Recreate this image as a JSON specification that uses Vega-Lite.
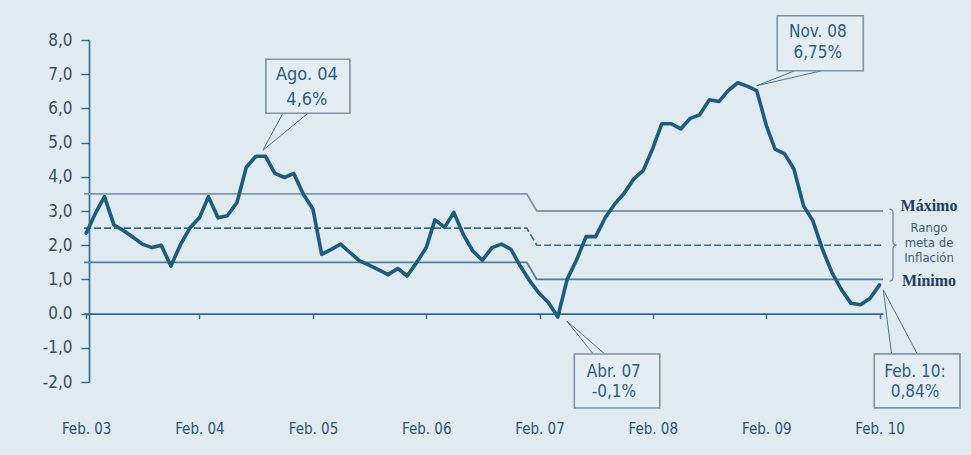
{
  "$schema": "https://vega.github.io/schema/vega-lite/v6.json",
  "width": 799,
  "height": 342,
  "autosize": {"type": "none"},
  "padding": {"left": 84, "top": 40, "right": 88, "bottom": 73},
  "background": "#dfeaf1",
  "config": {"view": {"stroke": null}, "font": "Liberation Sans Narrow, DejaVu Sans Condensed, Roboto Condensed, Roboto, sans-serif"},
  "title": {
    "text": "(Variación porcentual últimos 12 meses)",
    "font": "Liberation Sans",
    "fontSize": 16,
    "fontWeight": "normal",
    "color": "#1a1a1a",
    "anchor": "middle",
    "frame": "group",
    "dx": 36,
    "offset": 33,
    "baseline": "alphabetic"
  },
  "datasets": {
    "infl": [
      {"date": "2003/02/01", "value": 2.35},
      {"date": "2003/03/01", "value": 2.9},
      {"date": "2003/04/01", "value": 3.42},
      {"date": "2003/05/01", "value": 2.6},
      {"date": "2003/06/01", "value": 2.43},
      {"date": "2003/07/01", "value": 2.24},
      {"date": "2003/08/01", "value": 2.03},
      {"date": "2003/09/01", "value": 1.93},
      {"date": "2003/10/01", "value": 2.0},
      {"date": "2003/11/01", "value": 1.39},
      {"date": "2003/12/01", "value": 2.0},
      {"date": "2004/01/01", "value": 2.5},
      {"date": "2004/02/01", "value": 2.8},
      {"date": "2004/03/01", "value": 3.42},
      {"date": "2004/04/01", "value": 2.8},
      {"date": "2004/05/01", "value": 2.86},
      {"date": "2004/06/01", "value": 3.25},
      {"date": "2004/07/01", "value": 4.28},
      {"date": "2004/08/01", "value": 4.6},
      {"date": "2004/09/01", "value": 4.6},
      {"date": "2004/10/01", "value": 4.1},
      {"date": "2004/11/01", "value": 3.98},
      {"date": "2004/12/01", "value": 4.1},
      {"date": "2005/01/01", "value": 3.49},
      {"date": "2005/02/01", "value": 3.05},
      {"date": "2005/03/01", "value": 1.73},
      {"date": "2005/04/01", "value": 1.88},
      {"date": "2005/05/01", "value": 2.03},
      {"date": "2005/06/01", "value": 1.78},
      {"date": "2005/07/01", "value": 1.54},
      {"date": "2005/08/01", "value": 1.42},
      {"date": "2005/09/01", "value": 1.28},
      {"date": "2005/10/01", "value": 1.14},
      {"date": "2005/11/01", "value": 1.32},
      {"date": "2005/12/01", "value": 1.1},
      {"date": "2006/01/01", "value": 1.49},
      {"date": "2006/02/01", "value": 1.93},
      {"date": "2006/03/01", "value": 2.74},
      {"date": "2006/04/01", "value": 2.52},
      {"date": "2006/05/01", "value": 2.96},
      {"date": "2006/06/01", "value": 2.3},
      {"date": "2006/07/01", "value": 1.83},
      {"date": "2006/08/01", "value": 1.56},
      {"date": "2006/09/01", "value": 1.93},
      {"date": "2006/10/01", "value": 2.03},
      {"date": "2006/11/01", "value": 1.88},
      {"date": "2006/12/01", "value": 1.39},
      {"date": "2007/01/01", "value": 0.95},
      {"date": "2007/02/01", "value": 0.58},
      {"date": "2007/03/01", "value": 0.33},
      {"date": "2007/04/01", "value": -0.1},
      {"date": "2007/05/01", "value": 1.0},
      {"date": "2007/06/01", "value": 1.58},
      {"date": "2007/07/01", "value": 2.25},
      {"date": "2007/08/01", "value": 2.25},
      {"date": "2007/09/01", "value": 2.81},
      {"date": "2007/10/01", "value": 3.2},
      {"date": "2007/11/01", "value": 3.52},
      {"date": "2007/12/01", "value": 3.93},
      {"date": "2008/01/01", "value": 4.18},
      {"date": "2008/02/01", "value": 4.83},
      {"date": "2008/03/01", "value": 5.55},
      {"date": "2008/04/01", "value": 5.55},
      {"date": "2008/05/01", "value": 5.4},
      {"date": "2008/06/01", "value": 5.71},
      {"date": "2008/07/01", "value": 5.81},
      {"date": "2008/08/01", "value": 6.25},
      {"date": "2008/09/01", "value": 6.2},
      {"date": "2008/10/01", "value": 6.52},
      {"date": "2008/11/01", "value": 6.75},
      {"date": "2008/12/01", "value": 6.65},
      {"date": "2009/01/01", "value": 6.52},
      {"date": "2009/02/01", "value": 5.5},
      {"date": "2009/03/01", "value": 4.81},
      {"date": "2009/04/01", "value": 4.67},
      {"date": "2009/05/01", "value": 4.23},
      {"date": "2009/06/01", "value": 3.15},
      {"date": "2009/07/01", "value": 2.71},
      {"date": "2009/08/01", "value": 1.88},
      {"date": "2009/09/01", "value": 1.19},
      {"date": "2009/10/01", "value": 0.7},
      {"date": "2009/11/01", "value": 0.3},
      {"date": "2009/12/01", "value": 0.26},
      {"date": "2010/01/01", "value": 0.44},
      {"date": "2010/02/01", "value": 0.84}
    ],
    "refs": [
      {"date": "2003/01/25", "value": 3.5, "band": "max"},
      {"date": "2006/12/22", "value": 3.5, "band": "max"},
      {"date": "2007/01/23", "value": 3.0, "band": "max"},
      {"date": "2010/02/12", "value": 3.0, "band": "max"},
      {"date": "2003/01/25", "value": 2.5, "band": "mid"},
      {"date": "2006/12/22", "value": 2.5, "band": "mid"},
      {"date": "2007/01/23", "value": 2.0, "band": "mid"},
      {"date": "2010/02/12", "value": 2.0, "band": "mid"},
      {"date": "2003/01/25", "value": 1.5, "band": "min"},
      {"date": "2006/12/22", "value": 1.5, "band": "min"},
      {"date": "2007/01/23", "value": 1.0, "band": "min"},
      {"date": "2010/02/12", "value": 1.0, "band": "min"}
    ],
    "ann": [
      {"id": "ago", "date": "2004/08/01", "value": 4.6, "label": "Ago. 04\n4,6%"},
      {"id": "nov", "date": "2008/11/01", "value": 6.75, "label": "Nov. 08\n6,75%"},
      {"id": "abr", "date": "2007/04/01", "value": -0.1, "label": "Abr. 07\n-0,1%"},
      {"id": "feb", "date": "2010/02/01", "value": 0.84, "label": "Feb. 10:\n0,84%"}
    ],
    "legend": [
      {"kind": "max", "date": "2010/02/12", "value": 3.0, "label": "Máximo"},
      {"kind": "mid", "date": "2010/02/12", "value": 2.0, "label": "Rango\nmeta de\nInflación"},
      {"kind": "min", "date": "2010/02/12", "value": 1.0, "label": "Mínimo"}
    ]
  },
  "encoding": {
    "x": {
      "field": "date",
      "type": "temporal",
      "title": null,
      "scale": {
        "domain": [
          {"year": 2003, "month": 1, "date": 25},
          {"year": 2010, "month": 2, "date": 12}
        ],
        "nice": false
      },
      "axis": {
        "values": [
          {"year": 2003, "month": 2, "date": 1},
          {"year": 2004, "month": 2, "date": 1},
          {"year": 2005, "month": 2, "date": 1},
          {"year": 2006, "month": 2, "date": 1},
          {"year": 2007, "month": 2, "date": 1},
          {"year": 2008, "month": 2, "date": 1},
          {"year": 2009, "month": 2, "date": 1},
          {"year": 2010, "month": 2, "date": 1}
        ],
        "labelExpr": "'Feb. ' + timeFormat(datum.value, '%y')",
        "offset": -68.4,
        "grid": false,
        "domainColor": "#2b6b8f",
        "domainWidth": 1.6,
        "tickColor": "#2b6b8f",
        "tickWidth": 1.4,
        "tickSize": 5,
        "labelPadding": 103,
        "labelFontSize": 15,
        "labelColor": "#2d5475",
        "labelOverlap": false,
        "labelFlush": false
      }
    },
    "y": {
      "field": "value",
      "type": "quantitative",
      "title": null,
      "scale": {"domain": [-2, 8], "nice": false, "zero": false},
      "axis": {
        "values": [-2, -1, 0, 1, 2, 3, 4, 5, 6, 7, 8],
        "labelExpr": "datum.value == 0 ? '0.0' : datum.value + ',0'",
        "offset": -5,
        "grid": false,
        "domainColor": "#2b6b8f",
        "domainWidth": 1.6,
        "tickColor": "#2b6b8f",
        "tickWidth": 1.4,
        "tickSize": 8,
        "labelPadding": 9,
        "labelFontSize": 17,
        "labelColor": "#3b4b63"
      }
    }
  },
  "layer": [
    {
      "data": {"name": "refs"},
      "transform": [{"filter": "datum.band == 'max'"}],
      "mark": {"type": "line", "color": "#7d9ab0", "strokeWidth": 1.8, "clip": false}
    },
    {
      "data": {"name": "refs"},
      "transform": [{"filter": "datum.band == 'mid'"}],
      "mark": {"type": "line", "color": "#2e6d91", "strokeWidth": 1.6, "strokeDash": [7, 3], "clip": false}
    },
    {
      "data": {"name": "refs"},
      "transform": [{"filter": "datum.band == 'min'"}],
      "mark": {"type": "line", "color": "#4f7f9c", "strokeWidth": 1.8, "clip": false}
    },
    {
      "data": {"name": "infl"},
      "mark": {"type": "line", "color": "#1d5c80", "strokeWidth": 3.6, "strokeJoin": "round", "strokeCap": "round"}
    },
    {
      "data": {"name": "ann"},
      "transform": [{"filter": "datum.id == 'ago'"}],
      "mark": {"type": "rule", "color": "#4a7590", "strokeWidth": 1, "xOffset": 7, "yOffset": -6, "x2Offset": 27, "y2Offset": -43},
      "encoding": {"x2": {"field": "date"}, "y2": {"field": "value"}}
    },
    {
      "data": {"name": "ann"},
      "transform": [{"filter": "datum.id == 'ago'"}],
      "mark": {"type": "rule", "color": "#4a7590", "strokeWidth": 1, "xOffset": 7, "yOffset": -6, "x2Offset": 52, "y2Offset": -43},
      "encoding": {"x2": {"field": "date"}, "y2": {"field": "value"}}
    },
    {
      "data": {"name": "ann"},
      "transform": [{"filter": "datum.id == 'nov'"}],
      "mark": {"type": "rule", "color": "#4a7590", "strokeWidth": 1, "xOffset": 19, "yOffset": 3, "x2Offset": 57, "y2Offset": -12},
      "encoding": {"x2": {"field": "date"}, "y2": {"field": "value"}}
    },
    {
      "data": {"name": "ann"},
      "transform": [{"filter": "datum.id == 'nov'"}],
      "mark": {"type": "rule", "color": "#4a7590", "strokeWidth": 1, "xOffset": 19, "yOffset": 3, "x2Offset": 84, "y2Offset": -12},
      "encoding": {"x2": {"field": "date"}, "y2": {"field": "value"}}
    },
    {
      "data": {"name": "ann"},
      "transform": [{"filter": "datum.id == 'abr'"}],
      "mark": {"type": "rule", "color": "#4a7590", "strokeWidth": 1, "xOffset": 9, "yOffset": 4, "x2Offset": 35.5, "y2Offset": 37},
      "encoding": {"x2": {"field": "date"}, "y2": {"field": "value"}}
    },
    {
      "data": {"name": "ann"},
      "transform": [{"filter": "datum.id == 'abr'"}],
      "mark": {"type": "rule", "color": "#4a7590", "strokeWidth": 1, "xOffset": 9, "yOffset": 4, "x2Offset": 47, "y2Offset": 37},
      "encoding": {"x2": {"field": "date"}, "y2": {"field": "value"}}
    },
    {
      "data": {"name": "ann"},
      "transform": [{"filter": "datum.id == 'feb'"}],
      "mark": {"type": "rule", "color": "#4a7590", "strokeWidth": 1, "xOffset": 3.7, "yOffset": 5, "x2Offset": 12, "y2Offset": 69},
      "encoding": {"x2": {"field": "date"}, "y2": {"field": "value"}}
    },
    {
      "data": {"name": "ann"},
      "transform": [{"filter": "datum.id == 'feb'"}],
      "mark": {"type": "rule", "color": "#4a7590", "strokeWidth": 1, "xOffset": 3.7, "yOffset": 5, "x2Offset": 37.7, "y2Offset": 69},
      "encoding": {"x2": {"field": "date"}, "y2": {"field": "value"}}
    },
    {
      "data": {"name": "ann"},
      "transform": [{"filter": "datum.id == 'ago'"}],
      "mark": {"type": "rect", "fill": "#e3edf3", "stroke": "#7c95a8", "strokeWidth": 1.6, "xOffset": 10, "x2Offset": 94, "yOffset": -97, "y2Offset": -43},
      "encoding": {"x2": {"field": "date"}, "y2": {"field": "value"}}
    },
    {
      "data": {"name": "ann"},
      "transform": [{"filter": "datum.id == 'nov'"}],
      "mark": {"type": "rect", "fill": "#e3edf3", "stroke": "#7c95a8", "strokeWidth": 1.6, "xOffset": 39.5, "x2Offset": 125.5, "yOffset": -67, "y2Offset": -12},
      "encoding": {"x2": {"field": "date"}, "y2": {"field": "value"}}
    },
    {
      "data": {"name": "ann"},
      "transform": [{"filter": "datum.id == 'abr'"}],
      "mark": {"type": "rect", "fill": "#e3edf3", "stroke": "#7c95a8", "strokeWidth": 1.6, "xOffset": 16.5, "x2Offset": 102, "yOffset": 37, "y2Offset": 91},
      "encoding": {"x2": {"field": "date"}, "y2": {"field": "value"}}
    },
    {
      "data": {"name": "ann"},
      "transform": [{"filter": "datum.id == 'feb'"}],
      "mark": {"type": "rect", "fill": "#e3edf3", "stroke": "#7c95a8", "strokeWidth": 1.6, "xOffset": -5.3, "x2Offset": 80.4, "yOffset": 69, "y2Offset": 123},
      "encoding": {"x2": {"field": "date"}, "y2": {"field": "value"}}
    },
    {
      "data": {"name": "ann"},
      "transform": [{"filter": "datum.id == 'ago'"}],
      "mark": {"type": "text", "fontSize": 18, "color": "#2c5d86", "align": "center", "baseline": "middle", "lineBreak": "\n", "lineHeight": 25, "dx": 51, "dy": -81},
      "encoding": {"text": {"field": "label"}}
    },
    {
      "data": {"name": "ann"},
      "transform": [{"filter": "datum.id == 'nov'"}],
      "mark": {"type": "text", "fontSize": 17, "color": "#2c5d86", "align": "center", "baseline": "middle", "lineBreak": "\n", "lineHeight": 21.5, "dx": 80, "dy": -51},
      "encoding": {"text": {"field": "label"}}
    },
    {
      "data": {"name": "ann"},
      "transform": [{"filter": "datum.id == 'abr'"}],
      "mark": {"type": "text", "fontSize": 17, "color": "#2c5d86", "align": "center", "baseline": "middle", "lineBreak": "\n", "lineHeight": 20, "dx": 56, "dy": 55},
      "encoding": {"text": {"field": "label"}}
    },
    {
      "data": {"name": "ann"},
      "transform": [{"filter": "datum.id == 'feb'"}],
      "mark": {"type": "text", "fontSize": 17, "color": "#2c5d86", "align": "center", "baseline": "middle", "lineBreak": "\n", "lineHeight": 20, "dx": 35.4, "dy": 87},
      "encoding": {"text": {"field": "label"}}
    },
    {
      "data": {"name": "legend"},
      "transform": [{"filter": "datum.kind == 'max'"}],
      "mark": {"type": "text", "font": "Liberation Serif", "fontWeight": "bold", "fontSize": 16, "color": "#1f3f62", "align": "center", "baseline": "middle", "dx": 46, "dy": -5},
      "encoding": {"text": {"field": "label"}}
    },
    {
      "data": {"name": "legend"},
      "transform": [{"filter": "datum.kind == 'min'"}],
      "mark": {"type": "text", "font": "Liberation Serif", "fontWeight": "bold", "fontSize": 16, "color": "#1f3f62", "align": "center", "baseline": "middle", "dx": 46, "dy": 2},
      "encoding": {"text": {"field": "label"}}
    },
    {
      "data": {"name": "legend"},
      "transform": [{"filter": "datum.kind == 'mid'"}],
      "mark": {"type": "text", "fontSize": 13, "color": "#3d5f80", "align": "center", "baseline": "middle", "lineBreak": "\n", "lineHeight": 15, "dx": 46, "dy": -17.6},
      "encoding": {"text": {"field": "label"}}
    },
    {
      "data": {"name": "legend"},
      "transform": [{"filter": "datum.kind == 'mid'"}],
      "mark": {"type": "point", "shape": "M-0.1,-1 Q0,-1 0,-0.9 L0,-0.1 Q0,0 0.1,0 Q0,0 0,0.1 L0,0.9 Q0,1 -0.1,1", "size": 5184, "filled": false, "stroke": "#6d8ca3", "strokeWidth": 1.3, "opacity": 1, "xOffset": 10}
    }
  ]
}
